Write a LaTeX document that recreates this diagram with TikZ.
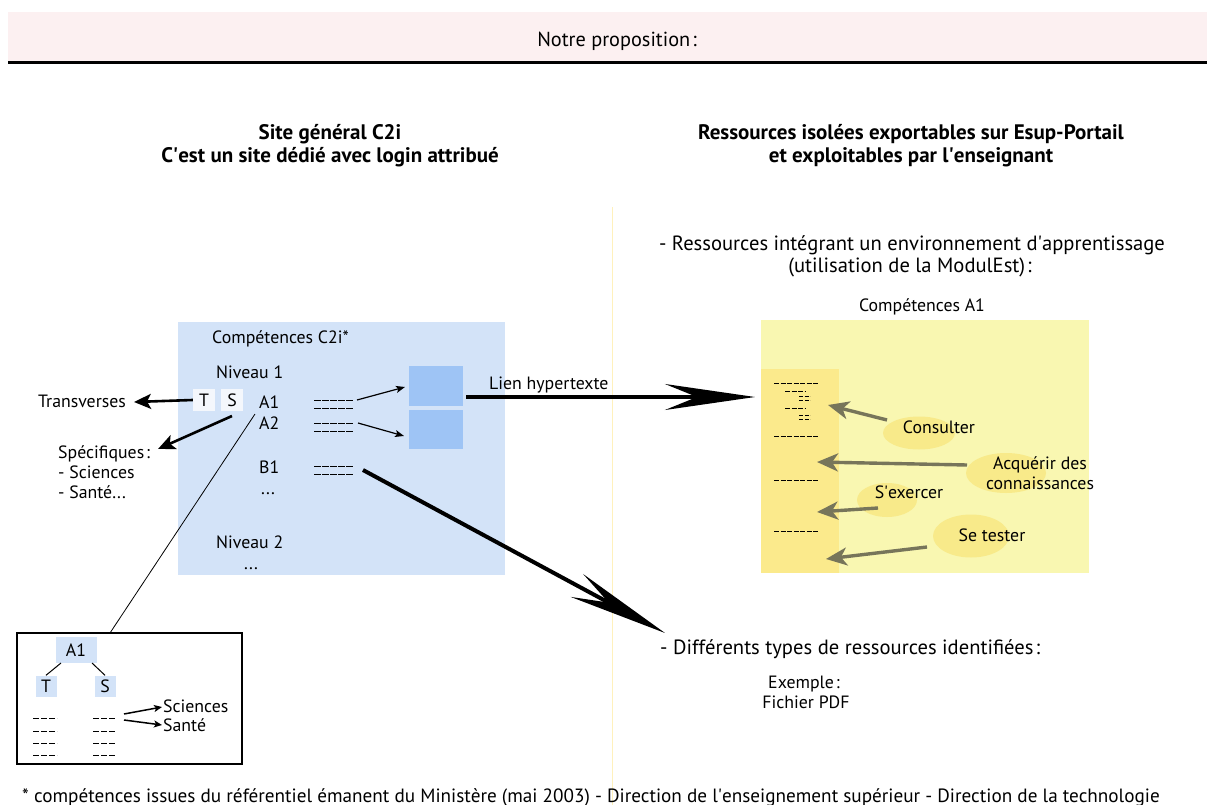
\documentclass[tikz,border=0pt]{standalone}
\usepackage{fontspec}
\setmainfont{PT Sans}
\usetikzlibrary{arrows.meta,shapes.geometric}
\definecolor{headpink}{HTML}{FCF0F1}
\definecolor{boxblue}{HTML}{D3E3F8}
\definecolor{sqblue}{HTML}{9EC4F5}
\definecolor{tsbox}{HTML}{F4F7FC}
\definecolor{paleyel}{HTML}{F9F7B1}
\definecolor{stripyel}{HTML}{FBEA8C}
\definecolor{ellyel}{HTML}{F8EA8A}
\definecolor{olivearr}{HTML}{77755A}
\definecolor{vline}{HTML}{FFF1BC}
\newcommand{\apos}{\textquotesingle}
\begin{document}
\begin{tikzpicture}[x=1pt,y=-1pt,
  txt/.style={inner sep=0pt, font=\fontsize{17.8}{21}\selectfont},
  big/.style={inner sep=0pt, font=\fontsize{20.6}{24}\selectfont},
  ttl/.style={inner sep=0pt, font=\fontsize{21}{25}\selectfont\bfseries},
  area/.style={inner sep=0pt, outer sep=0pt, anchor=north west},
  dashln/.style={line width=1pt, dash pattern=on 6.5pt off 1.6pt},
  bigarrow/.style={line width=4pt, -{Stealth[length=90pt,width=26pt,inset=32pt]}},
  thinarrow/.style={line width=1.2pt, -{Stealth[length=9pt,width=7pt,inset=2pt]}},
  midarrow/.style={line width=2.6pt, -{Stealth[length=17pt,width=15pt,inset=4pt]}},
  olarrow/.style={draw=olivearr, line width=3.4pt, -{Stealth[length=21pt,width=18pt,inset=6pt]}},
  smallarrow/.style={line width=1.5pt, -{Stealth[length=8pt,width=7pt,inset=2pt]}},
  ell/.style={ellipse, fill=ellyel, inner sep=0pt}
]
\useasboundingbox (0,0) rectangle (1207,805);
% header
\node[area, fill=headpink, minimum width=1199pt, minimum height=51pt] (head) at (8,12) {};
\draw[line width=3pt] (head.south west) -- (head.south east);
\node[inner sep=0pt, font=\fontsize{20.3}{24}\selectfont, anchor=base] (prop) at (617,47) {Notre proposition\kern2pt:};
% faint separator
\coordinate (vtop) at (612,207);
\coordinate (vbot) at (612,805);
\draw[vline, line width=1pt] (vtop) -- (vbot);
% titles
\node[ttl, anchor=base] (tl1) at (330,140) {Site général C2i};
\node[ttl, anchor=base] (tl2) at (330,163) {C\apos est un site dédié avec login attribué};
\node[ttl, anchor=base] (tr1) at (911,140) {Ressources isolées exportables sur Esup-Portail};
\node[ttl, anchor=base] (tr2) at (911,163) {et exploitables par l\apos enseignant};
% blue box
\node[area, fill=boxblue, minimum width=327pt, minimum height=253pt] (c2i) at (178,322) {};
\node[txt, anchor=base west] (comp) at (212,343) {Compétences C2i*};
\node[txt, anchor=base west] (niv1) at (216,378) {Niveau 1};
\node[txt, fill=tsbox, minimum width=22pt, minimum height=22pt] (T) at (204,400) {T};
\node[txt, fill=tsbox, minimum width=22pt, minimum height=22pt] (S) at (232,400) {S};
\node[txt, anchor=base west] (A1) at (259,408) {A1};
\node[txt, anchor=base west] (A2) at (259,429) {A2};
\node[txt, anchor=base west] (B1) at (259,473) {B1};
\node[txt, anchor=base west] (dots1) at (261,494) {...};
\node[txt, anchor=base west] (niv2) at (216,548) {Niveau 2};
\node[txt, anchor=base west] (dots2) at (244,569) {...};
% dashes
\coordinate (da1a) at (314,400); \coordinate (da1b) at (353,400);
\coordinate (da1c) at (314,408); \coordinate (da1d) at (353,408);
\coordinate (da2a) at (314,423); \coordinate (da2b) at (353,423);
\coordinate (da2c) at (314,431); \coordinate (da2d) at (353,431);
\coordinate (db1a) at (314,466); \coordinate (db1b) at (353,466);
\coordinate (db1c) at (314,474); \coordinate (db1d) at (353,474);
\draw[dashln] (da1a) -- (da1b) (da1c) -- (da1d) (da2a) -- (da2b) (da2c) -- (da2d)
  (db1a) -- (db1b) (db1c) -- (db1d);
% squares
\node[area, fill=sqblue, minimum width=54pt, minimum height=40pt] (sq1) at (409,366) {};
\node[area, fill=sqblue, minimum width=54pt, minimum height=39pt] (sq2) at (409,410) {};
\coordinate (a1s) at (357,400); \coordinate (a1e) at (405,387);
\coordinate (a2s) at (358,423); \coordinate (a2e) at (404,436);
\draw[thinarrow] (a1s) -- (a1e);
\draw[thinarrow] (a2s) -- (a2e);
% left labels
\node[txt, anchor=base west] (trans) at (38,407) {Transverses};
\node[txt, anchor=base west] (spec) at (58,458) {Spécifiques\kern2pt:};
\node[txt, anchor=base west] (sci) at (58,478) {- Sciences};
\node[txt, anchor=base west] (san) at (58,498) {- Santé...};
\coordinate (transtip) at (134,402);
\coordinate (spectip) at (158,449);
\coordinate (sstart) at (232,416);
\draw[midarrow] (T.west) -- (transtip);
\draw[midarrow] (sstart) -- (spectip);
% detail box
\node[area, draw=black, line width=1.3pt, minimum width=225pt, minimum height=131pt] (det) at (17,633) {};
\coordinate (a1link) at (255,414);
\coordinate (detlink) at (110,633);
\draw[line width=0.8pt] (a1link) -- (detlink);
\node[txt, fill=boxblue, minimum width=41pt, minimum height=26pt] (dA1) at (76,650) {A1};
\node[txt, fill=boxblue, minimum width=21pt, minimum height=21pt] (dT) at (46,686) {T};
\node[txt, fill=boxblue, minimum width=21pt, minimum height=21pt] (dS) at (105,686) {S};
\coordinate (dA1l) at (61,663); \coordinate (dA1r) at (92,663);
\draw[line width=1pt] (dA1l) -- (dT.north);
\draw[line width=1pt] (dA1r) -- (dS.north);
\foreach \yy in {718,731,743,755}{
  \draw[line width=1pt, dash pattern=on 6pt off 2pt] (33,\yy) -- (57,\yy);
  \draw[line width=1pt, dash pattern=on 6pt off 2pt] (93,\yy) -- (115,\yy);
}
\node[txt, anchor=base west] (dsci) at (163,712) {Sciences};
\node[txt, anchor=base west] (dsan) at (163,731) {Santé};
\coordinate (ds1) at (124,714); \coordinate (ds2) at (124,720);
\coordinate (de1) at (162,707); \coordinate (de2) at (162,725);
\draw[smallarrow] (ds1) -- (de1);
\draw[smallarrow] (ds2) -- (de2);
% big arrows
\coordinate (lienstart) at (466,397);
\coordinate (lientip) at (755,397);
\draw[bigarrow] (lienstart) -- (lientip);
\node[txt, anchor=base west] (lien) at (489,389) {Lien hypertexte};
\coordinate (b1start) at (363,470);
\coordinate (b1tip) at (665,633);
\draw[line width=4pt, -{Stealth[length=100pt,width=26pt,inset=36pt]}] (b1start) -- (b1tip);
% right side texts
\node[big, anchor=base] (r1) at (912,250) {- Ressources intégrant un environnement d\apos apprentissage};
\node[big, anchor=base] (r2) at (910,272) {(utilisation de la ModulEst)\kern2pt:};
\node[txt, anchor=base] (compA1) at (922,311) {Compétences A1};
% yellow box
\node[area, fill=paleyel, minimum width=328pt, minimum height=253pt] (ybox) at (761,320) {};
\node[area, fill=stripyel, minimum width=78pt, minimum height=204pt] (strip) at (761,369) {};
\draw[dashln, dash pattern=on 5pt off 1.5pt] (774,383) -- (819,383);
\draw[dashln, dash pattern=on 5pt off 1.5pt] (785,391) -- (806,391);
\draw[dashln, dash pattern=on 4pt off 1.5pt] (799,396) -- (810,396) (799,400) -- (810,400);
\draw[dashln, dash pattern=on 5pt off 1.5pt] (785,408) -- (806,408);
\draw[dashln, dash pattern=on 4pt off 1.5pt] (799,415) -- (810,415) (799,419) -- (810,419);
\draw[dashln, dash pattern=on 5pt off 1.5pt] (774,436) -- (819,436);
\draw[dashln, dash pattern=on 5pt off 1.5pt] (774,480) -- (819,480);
\draw[dashln, dash pattern=on 5pt off 1.5pt] (774,531) -- (819,531);
% ellipses
\node[ell, minimum width=72pt, minimum height=33pt] (econs) at (919,433) {};
\node[ell, minimum width=80pt, minimum height=40pt] (eacq) at (1006,473) {};
\node[ell, minimum width=60pt, minimum height=34pt] (eexe) at (887,500) {};
\node[ell, minimum width=76pt, minimum height=43pt] (etes) at (971,536) {};
\node[txt, anchor=base] (cons) at (939,433) {Consulter};
\node[txt, anchor=base] (acq1) at (1040,469) {Acquérir des};
\node[txt, anchor=base] (acq2) at (1040,489) {connaissances};
\node[txt, anchor=base] (exe) at (909,498) {S\apos exercer};
\node[txt, anchor=base] (tes) at (992,541) {Se tester};
\coordinate (o1s) at (887,420); \coordinate (o1e) at (828,405);
\coordinate (o2s) at (967,465); \coordinate (o2e) at (817,462);
\coordinate (o3s) at (878,508); \coordinate (o3e) at (817,512);
\coordinate (o4s) at (927,547); \coordinate (o4e) at (826,559);
\draw[olarrow] (o1s) -- (o1e);
\draw[olarrow] (o2s) -- (o2e);
\draw[olarrow] (o3s) -- (o3e);
\draw[olarrow] (o4s) -- (o4e);
% lower right
\node[big, anchor=base west] (diff) at (660,654) {- Différents types de ressources identifiées\kern2pt:};
\node[txt, anchor=base] (ex) at (804,688) {Exemple\kern2pt:};
\node[txt, anchor=base] (pdf) at (806,708) {Fichier PDF};
% footnote
\node[inner sep=0pt, font=\fontsize{19.2}{22}\selectfont, anchor=base west] (foot) at (22,802) {* compétences issues du référentiel émanent du Ministère (mai 2003) - Direction de l\apos enseignement supérieur - Direction de la technologie};
\end{tikzpicture}
\end{document}
